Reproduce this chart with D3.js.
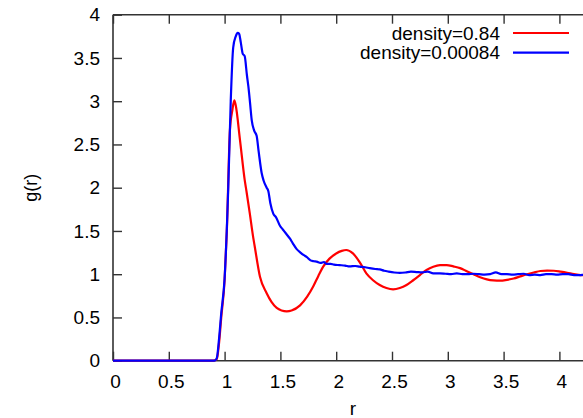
<!DOCTYPE html>
<html>
<head>
<meta charset="utf-8">
<script src="https://cdn.jsdelivr.net/npm/d3@7"></script>
<style>
  html, body { margin: 0; padding: 0; background: #fff; }
  svg { display: block; font-family: "Liberation Sans", Arial, Helvetica, sans-serif; }
</style>
</head>
<body>
<svg id="chart" width="583" height="418"></svg>
<script>
// ---- data ----
const seriesNames = ["density=0.84", "density=0.00084"];
const seriesColors = ["#ff0000", "#0000ff"];

const denseR = [0, 0.90, 0.93, 0.95, 0.97, 1.0, 1.02, 1.048, 1.07, 1.087, 1.10, 1.138, 1.18, 1.197, 1.226, 1.257, 1.27, 1.317, 1.377, 1.42, 1.467, 1.51, 1.557, 1.60, 1.676, 1.74, 1.795, 1.84, 1.885, 1.94, 2.0, 2.05, 2.09, 2.15, 2.21, 2.27, 2.33, 2.39, 2.45, 2.51, 2.57, 2.63, 2.69, 2.75, 2.81, 2.87, 2.93, 2.99, 3.05, 3.11, 3.17, 3.23, 3.29, 3.35, 3.41, 3.47, 3.53, 3.59, 3.65, 3.71, 3.77, 3.83, 3.89, 3.95, 4.01, 4.07, 4.13, 4.19, 4.25, 4.31];
const denseG = [0, 0, 0.02, 0.2, 0.5, 0.93, 1.5, 2.67, 2.9, 3.01, 2.95, 2.55, 2.09, 1.95, 1.70, 1.42, 1.32, 0.97, 0.78, 0.68, 0.61, 0.58, 0.57, 0.58, 0.64, 0.74, 0.86, 0.98, 1.09, 1.18, 1.24, 1.27, 1.28, 1.24, 1.14, 1.01, 0.93, 0.875, 0.84, 0.825, 0.84, 0.875, 0.93, 0.99, 1.05, 1.087, 1.105, 1.106, 1.09, 1.07, 1.035, 1.0, 0.965, 0.94, 0.928, 0.925, 0.935, 0.95, 0.975, 1.0, 1.02, 1.037, 1.042, 1.04, 1.03, 1.017, 1.0, 0.99, 0.985, 0.98];

const dilR = [0, 0.91, 0.93, 0.95, 0.97, 1.0, 1.033, 1.055, 1.077, 1.10, 1.117, 1.13, 1.145, 1.162, 1.18, 1.20, 1.213, 1.228, 1.243, 1.265, 1.287, 1.305, 1.332, 1.35, 1.377, 1.392, 1.41, 1.436, 1.46, 1.496, 1.52, 1.55, 1.586, 1.61, 1.646, 1.68, 1.71, 1.735, 1.77, 1.80, 1.825, 1.86, 1.89, 1.914, 1.95, 1.98, 2.03, 2.08, 2.12, 2.17, 2.21, 2.26, 2.30, 2.35, 2.39, 2.43, 2.47, 2.52, 2.57, 2.62, 2.67, 2.72, 2.77, 2.82, 2.87, 2.93, 2.98, 3.03, 3.08, 3.13, 3.18, 3.23, 3.28, 3.33, 3.38, 3.43, 3.48, 3.53, 3.58, 3.63, 3.68, 3.73, 3.78, 3.83, 3.88, 3.93, 3.98, 4.03, 4.08, 4.13, 4.18, 4.23, 4.30];
const dilG = [0, 0, 0.03, 0.25, 0.55, 0.95, 2.01, 3.0, 3.62, 3.75, 3.79, 3.78, 3.68, 3.55, 3.52, 3.3, 3.17, 2.98, 2.78, 2.66, 2.6, 2.42, 2.17, 2.08, 2.0, 1.96, 1.82, 1.70, 1.66, 1.56, 1.52, 1.47, 1.41, 1.36, 1.29, 1.25, 1.22, 1.20, 1.16, 1.15, 1.145, 1.13, 1.14, 1.12, 1.12, 1.11, 1.105, 1.10, 1.09, 1.095, 1.087, 1.08, 1.07, 1.06, 1.055, 1.04, 1.03, 1.02, 1.015, 1.02, 1.03, 1.025, 1.02, 1.03, 1.01, 1.01, 1.005, 1.0, 1.01, 1.0, 1.0, 1.005, 1.0, 0.995, 1.0, 1.02, 1.0, 1.0, 0.995, 1.0, 1.005, 0.99, 0.995, 0.99, 1.0, 1.0, 0.995, 1.0, 1.0, 0.99, 0.99, 0.995, 0.99];

const xTicks = [0, 0.5, 1, 1.5, 2, 2.5, 3, 3.5, 4];
const yTicks = [0, 0.5, 1, 1.5, 2, 2.5, 3, 3.5, 4];
const xDomain = [0, 4.3];
const yDomain = [0, 4];
const xLabel = "r";
const yLabel = "g(r)";

// ---- layout ----
const mLeft = 113, mTop = 14.7, mBottom = 360.7;
const mRight = mLeft + 111.6 * 4.3;
const svg = d3.select("#chart");
const x = d3.scaleLinear().domain(xDomain).range([mLeft, mRight]);
const y = d3.scaleLinear().domain(yDomain).range([mBottom, mTop]);

const axisColor = "#333";
const fontSize = 19;

// frame lines
const frame = svg.append("g").attr("stroke", axisColor).attr("stroke-width", 1.6).attr("fill", "none");
frame.append("line").attr("x1", mLeft).attr("x2", mRight).attr("y1", mBottom).attr("y2", mBottom);
frame.append("line").attr("x1", mLeft).attr("x2", mRight).attr("y1", mTop).attr("y2", mTop);
frame.append("line").attr("x1", mLeft).attr("x2", mLeft).attr("y1", mTop).attr("y2", mBottom);
frame.append("line").attr("x1", mRight).attr("x2", mRight).attr("y1", mTop).attr("y2", mBottom);

function styleAxis(g) {
  g.select(".domain").remove();
  g.selectAll(".tick line").attr("stroke", axisColor).attr("stroke-width", 1.4);
  g.selectAll(".tick text").attr("fill", "#000").attr("font-size", fontSize)
    .attr("font-family", "Liberation Sans, Arial, sans-serif");
}

svg.append("g").attr("transform", `translate(0,${mBottom})`)
  .call(d3.axisBottom(x).tickValues(xTicks).tickFormat(d => String(d)).tickSizeInner(-9).tickSizeOuter(0).tickPadding(14))
  .call(styleAxis)
  .selectAll(".tick text").attr("dx", 2);

svg.append("g").attr("transform", `translate(0,${mTop})`)
  .call(d3.axisTop(x).tickValues(xTicks).tickFormat("").tickSizeInner(-9).tickSizeOuter(0))
  .call(styleAxis);

svg.append("g").attr("transform", `translate(${mLeft},0)`)
  .call(d3.axisLeft(y).tickValues(yTicks).tickFormat(d => String(d)).tickSizeInner(-9).tickSizeOuter(0).tickPadding(13))
  .call(styleAxis);

svg.append("g").attr("transform", `translate(${mRight},0)`)
  .call(d3.axisRight(y).tickValues(yTicks).tickFormat("").tickSizeInner(-9).tickSizeOuter(0))
  .call(styleAxis);

// axis labels
svg.append("text").attr("x", (mLeft + mRight) / 2).attr("y", 415)
  .attr("text-anchor", "middle").attr("font-size", fontSize).attr("fill", "#000").text(xLabel);
svg.append("text").attr("transform", `translate(37,${(mTop + mBottom) / 2}) rotate(-90)`)
  .attr("text-anchor", "middle").attr("font-size", 18).attr("fill", "#000").text(yLabel);

// curves
const line = d3.line().x(d => x(d[0])).y(d => y(d[1])).curve(d3.curveMonotoneX);
const series = [d3.zip(denseR, denseG), d3.zip(dilR, dilG)];
series.forEach((s, i) => {
  svg.append("path").datum(s).attr("d", line)
    .attr("fill", "none").attr("stroke", seriesColors[i]).attr("stroke-width", 2.2)
    .attr("stroke-linejoin", "round");
});

// legend
const legY = [33, 52.7];
seriesNames.forEach((name, i) => {
  svg.append("text").attr("x", 500).attr("y", legY[i]).attr("dy", "0.35em")
    .attr("text-anchor", "end").attr("font-size", fontSize).attr("fill", "#000").text(name);
  svg.append("line").attr("x1", 513).attr("x2", 569).attr("y1", legY[i]).attr("y2", legY[i])
    .attr("stroke", seriesColors[i]).attr("stroke-width", 2.2);
});
</script>
</body>
</html>
